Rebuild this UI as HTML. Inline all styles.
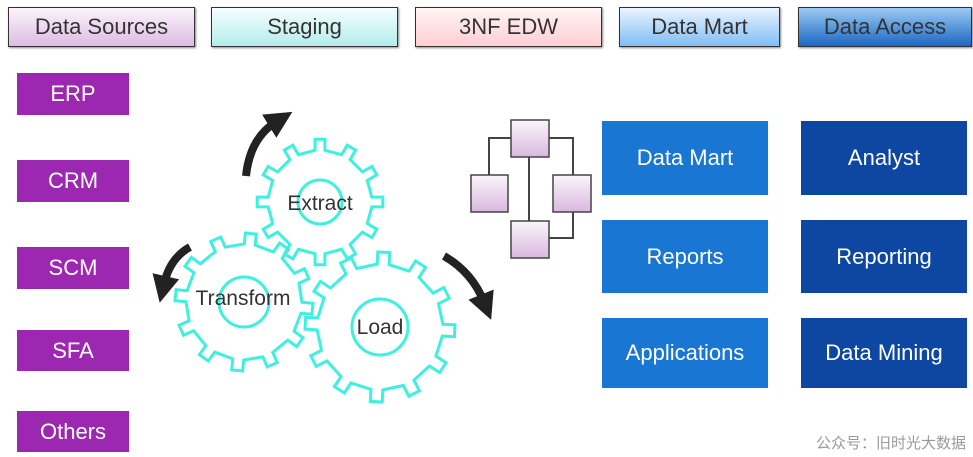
<!DOCTYPE html>
<html><head><meta charset="utf-8"><style>
body{margin:0;width:973px;height:457px;background:#fff;position:relative;overflow:hidden;font-family:"Segoe UI","Liberation Sans",sans-serif}
.h{position:absolute;top:7px;height:40px;border:1px solid #333;box-sizing:border-box;font-size:22px;color:#333;text-align:center;line-height:38px;box-shadow:1px 1px 2px #888}
.p{position:absolute;left:17px;width:112px;height:42px;background:#9c27b0;color:#fff;font-size:22px;text-align:center;line-height:42px}
.b{position:absolute;color:#fff;font-size:22px;text-align:center;display:flex;align-items:center;justify-content:center}
.c1{left:602px;width:166px;background:#1976d2}
.c2{left:801px;width:166px;background:#0d47a1}
</style></head><body>
<div class="h" style="left:8px;width:187px;background:linear-gradient(#fbf3fb,#dcbde2)">Data Sources</div>
<div class="h" style="left:211px;width:187px;background:linear-gradient(#f5ffff,#b4ecec)">Staging</div>
<div class="h" style="left:415px;width:187px;background:linear-gradient(#fff5f5,#ffcfd3)">3NF EDW</div>
<div class="h" style="left:619px;width:161px;background:linear-gradient(#eaf4ff,#7fbdf4)">Data Mart</div>
<div class="h" style="left:798px;width:174px;background:linear-gradient(#9ccaf2,#1a68c4)">Data Access</div>
<div class="p" style="top:73px">ERP</div>
<div class="p" style="top:160px">CRM</div>
<div class="p" style="top:247px">SCM</div>
<div class="p" style="top:330px;height:41px;line-height:41px">SFA</div>
<div class="p" style="top:411px;height:41px;line-height:41px">Others</div>
<div class="b c1" style="top:121px;height:74px">Data Mart</div>
<div class="b c1" style="top:220px;height:73px">Reports</div>
<div class="b c1" style="top:318px;height:70px">Applications</div>
<div class="b c2" style="top:121px;height:74px">Analyst</div>
<div class="b c2" style="top:220px;height:73px">Reporting</div>
<div class="b c2" style="top:318px;height:70px">Data Mining</div>
<svg width="973" height="457" style="position:absolute;left:0;top:0">
<defs><linearGradient id="g" x1="0" y1="0" x2="0" y2="1"><stop offset="0" stop-color="#fbf5fb"/><stop offset="1" stop-color="#d9b8df"/></linearGradient>
<marker id="ah" markerWidth="3.4" markerHeight="3.4" refX="1" refY="1.7" orient="auto"><path d="M0,0 L3.4,1.7 L0,3.4z" fill="#222"/></marker></defs>
<g stroke="#444" stroke-width="2" fill="none">
<path d="M511,138H489V175M549,138H573V175M529,157V221M573,212V238H549"/></g>
<g stroke="#444" stroke-width="1.5" fill="url(#g)">
<rect x="511" y="120" width="38" height="37"/><rect x="471" y="175" width="37" height="37"/><rect x="553" y="175" width="38" height="37"/><rect x="511" y="221" width="38" height="37"/></g>
<g id="gears" fill="none" stroke="#3ff0e0" stroke-width="3"></g>
<g stroke="#222" stroke-width="8" fill="none" marker-end="url(#ah)">
<path d="M246,176 Q250,138 276,122"/>
<path d="M190,247 Q170,258 164,284"/>
<path d="M444,256 Q472,272 484,302"/>
</g>
<g font-size="21" fill="#333" text-anchor="middle" font-family="Segoe UI,Liberation Sans,sans-serif">
<text x="320" y="210">Extract</text><text x="243" y="305">Transform</text><text x="380" y="334">Load</text></g>
<text x="966" y="448" text-anchor="end" font-size="15" fill="#999" font-family="Liberation Sans,Noto Sans CJK SC,sans-serif">公众号：旧时光大数据</text>
</svg>
<script>
function gear(cx,cy,ro,ri,rc,n,off){var d="";var w=Math.PI/n*0.36;for(var i=0;i<n;i++){var a=(i/n)*2*Math.PI+off;
var wt=w*ri/ro;
var pts=[[ri,a-w],[ro,a-wt],[ro,a+wt],[ri,a+w],[ri,a+Math.PI*2/n-w]];
pts.forEach(function(p,j){d+=(i==0&&j==0?"M":"L")+(cx+p[0]*Math.cos(p[1])).toFixed(1)+","+(cy+p[0]*Math.sin(p[1])).toFixed(1)});}
d+="Z";return '<path d="'+d+'"/><circle cx="'+cx+'" cy="'+cy+'" r="'+rc+'"/>';}
document.getElementById("gears").innerHTML=gear(320,202,63,52,22,12,0)+gear(244,302,69,58,25,12,0.1)+gear(380,327,75,63,28,12,0.05);
</script>
</body></html>
